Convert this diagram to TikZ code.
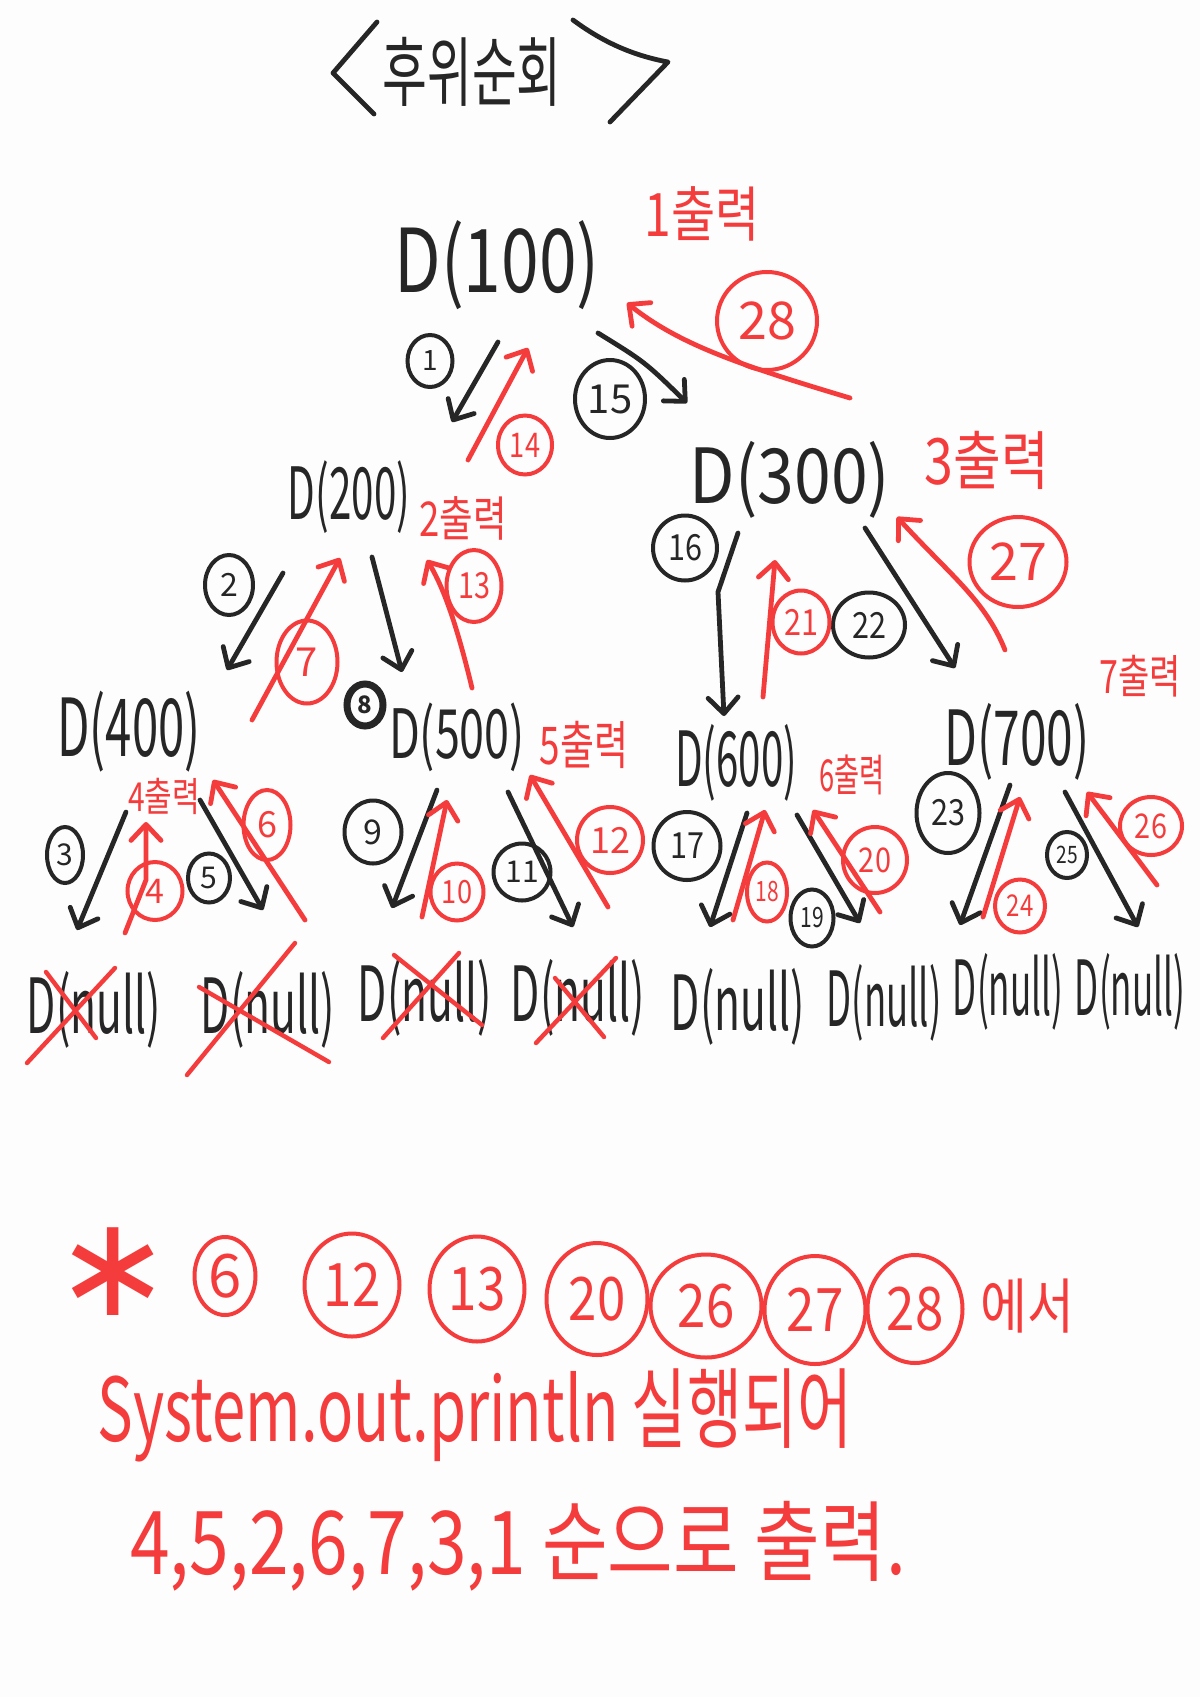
\documentclass[tikz,border=0pt]{standalone}
\usepackage{fontspec}
\setmainfont{Noto Sans CJK KR}
\newfontfamily\djv{DejaVu Sans}
\usepackage{graphicx}
\usetikzlibrary{arrows.meta,shapes.geometric}
\definecolor{ink}{HTML}{262626}
\definecolor{hred}{HTML}{F43C3C}
\definecolor{paper}{HTML}{FDFDFD}
\newcommand{\hsc}[2]{\scalebox{#1}[1]{#2}}
\begin{document}
\begin{tikzpicture}[x=0.5pt,y=-0.5pt,
  fs/.style={font=\fontsize{#1}{#1}\selectfont},
  bk/.style={draw=ink, line width=2.4pt, line cap=round, line join=round},
  rd/.style={draw=hred, line width=2.4pt, line cap=round, line join=round},
  barr/.style={bk, -{Straight Barb[length=8pt,width=15pt,round]}},
  rarr/.style={rd, -{Straight Barb[length=8pt,width=15pt,round]}},
  bc/.style={ellipse, draw=ink, line width=2pt, text=ink, inner sep=0pt},
  rc/.style={ellipse, draw=hred, line width=2pt, text=hred, inner sep=0pt},
  tree/.style={text=ink, inner sep=0pt},
  rtxt/.style={text=hred, inner sep=0pt},
  xmark/.style={rd, line width=2.2pt}
]
\useasboundingbox (0,0) rectangle (1200,1697);
\fill[paper] (0,0) rectangle (1200,1697);

% ---------- title ----------
\draw[bk] (377,22) -- (333,73) -- (374,114);
\draw[bk] (573,20) .. controls (600,40) and (630,55) .. (668,62) -- (610,122);
\node[tree, fs=38] (title) at (472,72) {\hsc{0.64}{후위순회}};

% ---------- tree nodes ----------
\node[tree, fs=44] (n100) at (497,265) {\hsc{0.77}{D(100)}};
\node[tree, fs=36] (n200) at (349,497) {\hsc{0.56}{D(200)}};
\node[tree, fs=38] (n300) at (790,480) {\hsc{0.87}{D(300)}};
\node[tree, fs=40] (n400) at (129,732) {\hsc{0.59}{D(400)}};
\node[tree, fs=34] (n500) at (457,737) {\hsc{0.66}{D(500)}};
\node[tree, fs=38] (n600) at (736,763) {\hsc{0.53}{D(600)}};
\node[tree, fs=38] (n700) at (1017,742) {\hsc{0.63}{D(700)}};

\node[tree, fs=38] (z1) at (94,1010) {\hsc{0.56}{D(null)}};
\node[tree, fs=38] (z2) at (268,1010) {\hsc{0.56}{D(null)}};
\node[tree, fs=38] (z3) at (425,998) {\hsc{0.56}{D(null)}};
\node[tree, fs=38] (z4) at (578,998) {\hsc{0.56}{D(null)}};
\node[tree, fs=38] (z5) at (738,1007) {\hsc{0.56}{D(null)}};
\node[tree, fs=38] (z6) at (884,1003) {\hsc{0.48}{D(null)}};
\node[tree, fs=38] (z7) at (1008,992) {\hsc{0.46}{D(null)}};
\node[tree, fs=38] (z8) at (1130,992) {\hsc{0.46}{D(null)}};

% ---------- red "출력" notes ----------
\node[rtxt, fs=30] (p1) at (702,214) {\hsc{0.8}{1출력}};
\node[rtxt, fs=24] (p2) at (463,518) {\hsc{0.76}{2출력}};
\node[rtxt, fs=32] (p3) at (987,460) {\hsc{0.81}{3출력}};
\node[rtxt, fs=20] (p4) at (164,796) {\hsc{0.75}{4출력}};
\node[rtxt, fs=26] (p5) at (584,745) {\hsc{0.71}{5출력}};
\node[rtxt, fs=22] (p6) at (852,775) {\hsc{0.62}{6출력}};
\node[rtxt, fs=23] (p7) at (1140,676) {\hsc{0.74}{7출력}};

% ---------- black step labels ----------
\node[bc, fs=14, minimum width=22.5pt, minimum height=26pt] (c1) at (430,361) {1};
\node[bc, fs=20, minimum width=35pt, minimum height=39pt] (c15) at (610,399) {15};
\node[bc, fs=16, minimum width=24pt, minimum height=30pt] (c2) at (229,585) {2};
\node[bc, fs=12, minimum width=18pt, minimum height=21pt, line width=3.5pt] (c8) at (365,705) {\textbf{8}};
\node[bc, fs=18, minimum width=32pt, minimum height=32.5pt] (c16) at (685,548) {\hsc{0.85}{16}};
\node[bc, fs=18, minimum width=36pt, minimum height=32.5pt] (c22) at (869,625) {\hsc{0.85}{22}};
\node[bc, fs=15, minimum width=18pt, minimum height=28pt] (c3) at (65,855) {3};
\node[bc, fs=15, minimum width=21pt, minimum height=24.5pt] (c5) at (209,878) {5};
\node[bc, fs=17, minimum width=28.5pt, minimum height=31.5pt] (c9) at (373,832) {9};
\node[bc, fs=15, minimum width=28.5pt, minimum height=28.5pt] (c11) at (522,872) {11};
\node[bc, fs=18, minimum width=33.5pt, minimum height=34pt] (c17) at (687,846) {\hsc{0.85}{17}};
\node[bc, fs=14, minimum width=21.5pt, minimum height=28.5pt] (c19) at (812,918) {\hsc{0.75}{19}};
\node[bc, fs=18, minimum width=31.5pt, minimum height=40pt] (c23) at (948,813) {\hsc{0.85}{23}};
\node[bc, fs=12, minimum width=20pt, minimum height=23pt] (c25) at (1067,855) {\hsc{0.8}{25}};

% ---------- red step labels ----------
\node[rc, fs=17, minimum width=27pt, minimum height=29.5pt] (r14) at (525,445) {\hsc{0.8}{14}};
\node[rc, fs=26, minimum width=50pt, minimum height=49pt] (r28) at (767,321) {28};
\node[rc, fs=20, minimum width=30.5pt, minimum height=41.5pt] (r7) at (307,662) {7};
\node[rc, fs=18, minimum width=27.5pt, minimum height=36pt] (r13) at (474,586) {\hsc{0.8}{13}};
\node[rc, fs=18, minimum width=28.5pt, minimum height=31.5pt] (r21) at (801,622) {\hsc{0.85}{21}};
\node[rc, fs=26, minimum width=48.5pt, minimum height=45pt] (r27) at (1018,562) {27};
\node[rc, fs=17, minimum width=27.5pt, minimum height=29pt] (r4) at (155,891) {4};
\node[rc, fs=18, minimum width=23.5pt, minimum height=35pt] (r6) at (267,825) {6};
\node[rc, fs=16, minimum width=26.5pt, minimum height=28.5pt] (r10) at (457,892) {\hsc{0.85}{10}};
\node[rc, fs=18, minimum width=33pt, minimum height=33pt] (r12) at (610,840) {12};
\node[rc, fs=14, minimum width=20pt, minimum height=29.5pt] (r18) at (767,892) {\hsc{0.75}{18}};
\node[rc, fs=17, minimum width=32pt, minimum height=33pt] (r20) at (875,860) {\hsc{0.85}{20}};
\node[rc, fs=15, minimum width=25pt, minimum height=26.5pt] (r24) at (1020,906) {\hsc{0.8}{24}};
\node[rc, fs=17, minimum width=31pt, minimum height=29pt] (r26) at (1151,826) {\hsc{0.85}{26}};

% ---------- arrow end points ----------
\coordinate (a1s) at (498,342);  \coordinate (a1e) at (452,422);
\coordinate (a15s) at (598,333); \coordinate (a15e) at (687,403);
\coordinate (a2s) at (283,573);  \coordinate (a2e) at (227,670);
\coordinate (a8s) at (372,557);  \coordinate (a8e) at (402,672);
\coordinate (a16s) at (738,533); \coordinate (a16m) at (718,592); \coordinate (a16e) at (724,716);
\coordinate (a22s) at (865,528); \coordinate (a22e) at (955,668);
\coordinate (a3s) at (126,812);  \coordinate (a3e) at (77,930);
\coordinate (a5s) at (200,800);  \coordinate (a5e) at (263,910);
\coordinate (a9s) at (437,790);  \coordinate (a9e) at (392,908);
\coordinate (a11s) at (508,792); \coordinate (a11e) at (573,927);
\coordinate (a17s) at (747,813); \coordinate (a17e) at (710,927);
\coordinate (a19s) at (797,815); \coordinate (a19e) at (860,923);
\coordinate (a23s) at (1010,785); \coordinate (a23e) at (960,925);
\coordinate (a25s) at (1065,792); \coordinate (a25e) at (1138,927);

\coordinate (b14s) at (468,460);  \coordinate (b14e) at (528,348);
\coordinate (b28s) at (850,398);  \coordinate (b28e) at (627,303);
\coordinate (b7s) at (252,720);   \coordinate (b7e) at (340,558);
\coordinate (b13s) at (472,688);  \coordinate (b13e) at (427,560);
\coordinate (b21s) at (763,697);  \coordinate (b21e) at (775,560);
\coordinate (b27s) at (1005,650); \coordinate (b27e) at (897,517);
\coordinate (b4s) at (125,933);   \coordinate (b4m) at (146,880); \coordinate (b4e) at (146,822);
\coordinate (b6s) at (305,920);   \coordinate (b6e) at (213,780);
\coordinate (b10s) at (422,917);  \coordinate (b10e) at (447,800);
\coordinate (b12s) at (608,907);  \coordinate (b12e) at (530,775);
\coordinate (b18s) at (733,920);  \coordinate (b18e) at (765,810);
\coordinate (b20s) at (880,912);  \coordinate (b20e) at (813,810);
\coordinate (b24s) at (983,917);  \coordinate (b24e) at (1020,797);
\coordinate (b26s) at (1157,885); \coordinate (b26e) at (1087,792);

% ---------- black arrows (going down) ----------
\draw[barr] (a1s) -- (a1e);
\draw[barr] (a15s) .. controls (645,362) .. (a15e);
\draw[barr] (a2s) -- (a2e);
\draw[barr] (a8s) -- (a8e);
\draw[barr] (a16s) -- (a16m) -- (a16e);
\draw[barr] (a22s) -- (a22e);
\draw[barr] (a3s) -- (a3e);
\draw[barr] (a5s) -- (a5e);
\draw[barr] (a9s) -- (a9e);
\draw[barr] (a11s) -- (a11e);
\draw[barr] (a17s) -- (a17e);
\draw[barr] (a19s) -- (a19e);
\draw[barr] (a23s) -- (a23e);
\draw[barr] (a25s) -- (a25e);

% ---------- red arrows (going back up) ----------
\draw[rarr] (b14s) -- (b14e);
\draw[rarr] (b28s) .. controls (740,365) and (680,345) .. (b28e);
\draw[rarr] (b7s) -- (b7e);
\draw[rarr] (b13s) .. controls (458,630) and (445,590) .. (b13e);
\draw[rarr] (b21s) -- (b21e);
\draw[rarr] (b27s) .. controls (985,600) and (950,575) .. (b27e);
\draw[rarr] (b4s) -- (b4m) -- (b4e);
\draw[rarr] (b6s) -- (b6e);
\draw[rarr] (b10s) -- (b10e);
\draw[rarr] (b12s) -- (b12e);
\draw[rarr] (b18s) -- (b18e);
\draw[rarr] (b20s) -- (b20e);
\draw[rarr] (b24s) -- (b24e);
\draw[rarr] (b26s) -- (b26e);

% ---------- red crosses over null leaves ----------
\draw[xmark] (27,1063) -- (115,968);  \draw[xmark] (46,972) -- (96,1038);
\draw[xmark] (187,1075) -- (295,943); \draw[xmark] (199,987) -- (329,1062);
\draw[xmark] (383,1038) -- (459,953); \draw[xmark] (394,955) -- (482,1025);
\draw[xmark] (536,1043) -- (616,958); \draw[xmark] (555,978) -- (604,1037);

% ---------- summary ----------
\node[rtxt, font=\djv\fontsize{70}{70}\selectfont, anchor=base] (star) at (113,1315) {∗};
\node[rc, fs=30, minimum width=30.5pt, minimum height=39pt] (e6) at (225,1276) {6};
\node[rc, fs=30, minimum width=47.5pt, minimum height=51.5pt] (e12) at (352,1285) {\hsc{0.85}{12}};
\node[rc, fs=30, minimum width=47.5pt, minimum height=52.5pt] (e13) at (477,1289) {\hsc{0.85}{13}};
\node[rc, fs=30, minimum width=50.5pt, minimum height=56pt] (e20) at (597,1299) {\hsc{0.85}{20}};
\node[rc, fs=30, minimum width=55.5pt, minimum height=51.5pt] (e26) at (706,1306) {\hsc{0.85}{26}};
\node[rc, fs=30, minimum width=50.5pt, minimum height=54pt] (e27) at (815,1310) {\hsc{0.85}{27}};
\node[rc, fs=30, minimum width=47.5pt, minimum height=54pt] (e28) at (915,1309) {\hsc{0.85}{28}};
\node[rtxt, fs=30] (eseo) at (1027,1306) {\hsc{0.85}{에서}};
\node[rtxt, fs=44, anchor=base west] (line2) at (97,1441) {\hsc{0.68}{System.out.println 실행되어}};
\node[rtxt, fs=44, anchor=base west] (line3) at (130,1574) {\hsc{0.81}{4,5,2,6,7,3,1 순으로 출력.}};
\end{tikzpicture}
\end{document}
